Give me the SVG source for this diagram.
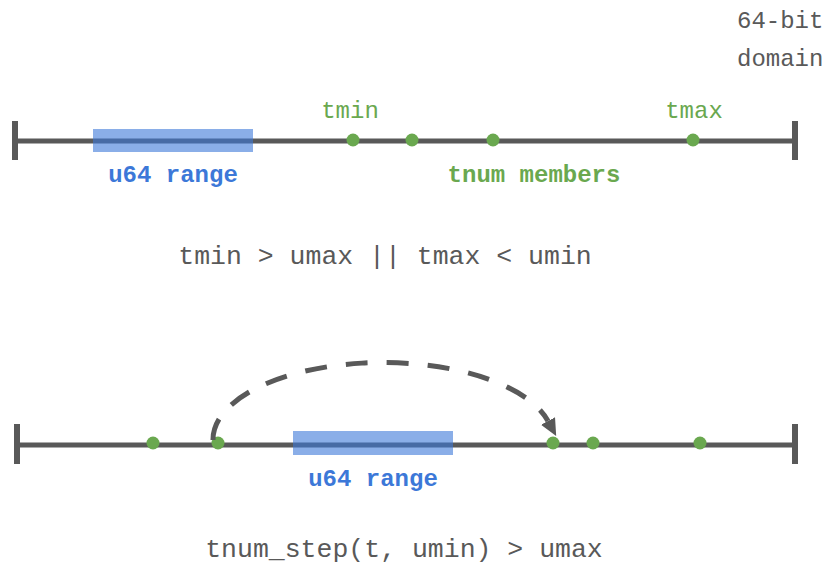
<svg xmlns="http://www.w3.org/2000/svg" width="825" height="565" viewBox="0 0 825 565">
<defs>
<style>
.axis{stroke:#595959;stroke-width:5;fill:none}
.tick{fill:#595959}
.range{fill:#3c78d8;fill-opacity:0.6}
.dot{fill:#6aa84f}
.mono{font-family:"Liberation Mono","DejaVu Sans Mono",monospace}
.lbl{font-size:24px}
.gray{fill:#595959}
.green{fill:#6aa84f}
.blue{fill:#3c78d8}
.bold{font-weight:bold}
.expr{font-size:26.5px;fill:#595959}
</style>
<marker id="arrow" markerUnits="userSpaceOnUse" markerWidth="18" markerHeight="18" refX="0" refY="8" orient="auto" viewBox="0 0 18 16">
<path d="M0,0 L17,8 L0,16 Z" fill="#595959"/>
</marker>
</defs>
<rect width="825" height="565" fill="#ffffff"/>
<g id="domain-label">
<text class="mono lbl gray" x="737" y="28">64-bit</text>
<text class="mono lbl gray" x="737" y="66">domain</text>
</g>
<g id="top-axis">
<line class="axis" x1="15" y1="141" x2="795" y2="141"/>
<rect class="tick" x="12" y="121" width="6" height="39"/>
<rect class="tick" x="792" y="121" width="6" height="39"/>
</g>
<g id="top-range">
<rect class="range" x="93" y="129" width="160" height="23"/>
<text class="mono lbl blue bold" x="173" y="182" text-anchor="middle">u64 range</text>
</g>
<g id="top-members">
<circle class="dot" cx="353" cy="140" r="6.5"/>
<circle class="dot" cx="412" cy="140" r="6.5"/>
<circle class="dot" cx="493" cy="140" r="6.5"/>
<circle class="dot" cx="693" cy="140" r="6.5"/>
<text class="mono lbl green" x="350" y="118" text-anchor="middle">tmin</text>
<text class="mono lbl green" x="694" y="118" text-anchor="middle">tmax</text>
<text class="mono lbl green bold" x="534" y="182" text-anchor="middle">tnum members</text>
</g>
<g id="top-expr">
<text class="mono expr" x="385" y="264" text-anchor="middle">tmin &gt; umax || tmax &lt; umin</text>
</g>
<g id="bottom-axis">
<line class="axis" x1="17" y1="445" x2="795" y2="445"/>
<rect class="tick" x="14" y="424" width="6" height="40"/>
<rect class="tick" x="792" y="424" width="6" height="40"/>
</g>
<g id="bottom-range">
<rect class="range" x="293" y="431" width="160" height="24"/>
<text class="mono lbl blue bold" x="373" y="486" text-anchor="middle">u64 range</text>
</g>
<g id="bottom-members">
<circle class="dot" cx="153" cy="443" r="6.5"/>
<circle class="dot" cx="218" cy="443" r="6.5"/>
<circle class="dot" cx="553" cy="443" r="6.5"/>
<circle class="dot" cx="593" cy="443" r="6.5"/>
<circle class="dot" cx="700" cy="443" r="6.5"/>
</g>
<g id="connectors">
<path d="M213,440 A170,77 0 0 1 548,421" fill="none" stroke="#595959" stroke-width="5" stroke-dasharray="22 19" marker-end="url(#arrow)"/>
</g>
<g id="bottom-expr">
<text class="mono expr" x="404" y="557" text-anchor="middle">tnum_step(t, umin) &gt; umax</text>
</g>
</svg>
